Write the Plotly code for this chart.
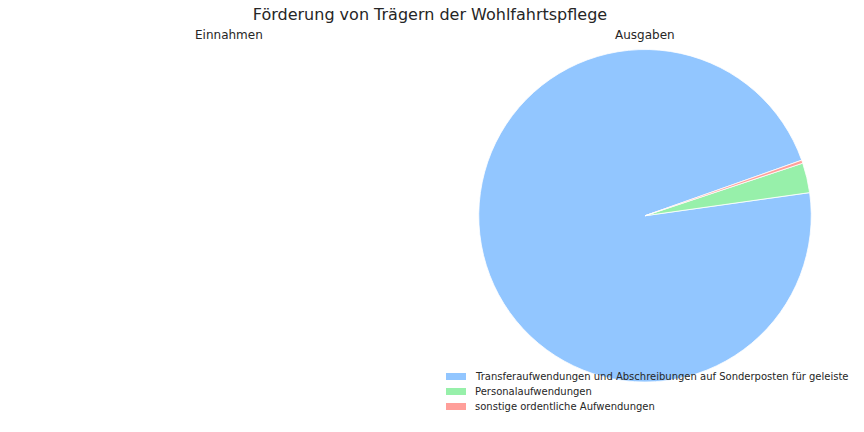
import plotly.graph_objects as go

labels = ["Transferaufwendungen und Abschreibungen auf Sonderposten für geleiste",
          "Personalaufwendungen",
          "sonstige ordentliche Aufwendungen"]
values = [96.8, 2.9, 0.3]
colors = ["#92C6FF", "#97F0AA", "#FF9F9A"]

W, H = 864, 432
font = "DejaVu Sans, sans-serif"


def px(x):
    return x / W


def py(y):
    return 1 - y / H


fig = go.Figure()
fig.add_trace(go.Pie(
    labels=labels, values=values, sort=False, direction="counterclockwise",
    rotation=82, textinfo="none", hoverinfo="label+percent", showlegend=False,
    marker=dict(colors=colors, line=dict(color="white", width=0.8)),
    domain=dict(x=[px(478.5), px(811.5)], y=[py(382), py(49.5)]),
))

annotations = [
    dict(text="Einnahmen", x=px(229), y=py(35), xref="paper", yref="paper",
         showarrow=False, xanchor="center", yanchor="middle", font=dict(size=12, family=font, color="#262626")),
    dict(text="Ausgaben", x=px(645), y=py(35), xref="paper", yref="paper",
         showarrow=False, xanchor="center", yanchor="middle", font=dict(size=12, family=font, color="#262626")),
]
shapes = []
# legend built from labels/colors
lx0, ly0, dy = 446, 376.5, 15
for i, (lab, col) in enumerate(zip(labels, colors)):
    yc = ly0 + i * dy
    shapes.append(dict(type="rect", xref="paper", yref="paper",
                       x0=px(lx0), x1=px(lx0 + 20), y0=py(yc + 3.5), y1=py(yc - 3.5),
                       fillcolor=col, line=dict(width=0)))
    annotations.append(dict(text=lab, x=px(lx0 + 27), y=py(yc), xref="paper", yref="paper",
                            showarrow=False, xanchor="left", yanchor="middle",
                            font=dict(size=10, family=font, color="#262626")))

fig.update_layout(
    width=W, height=H,
    margin=dict(l=0, r=0, t=0, b=0, autoexpand=False),
    paper_bgcolor="white", plot_bgcolor="white",
    font=dict(family=font, color="#262626"),
    title=dict(text="Förderung von Trägern der Wohlfahrtspflege", x=px(430), xanchor="center",
               y=py(14), yanchor="middle", font=dict(size=16, family=font, color="#262626")),
    showlegend=False,
    annotations=annotations,
    shapes=shapes,
)
fig.write_html("out.html", config={"displayModeBar": False},
               post_script="document.body.style.margin='0px';")
